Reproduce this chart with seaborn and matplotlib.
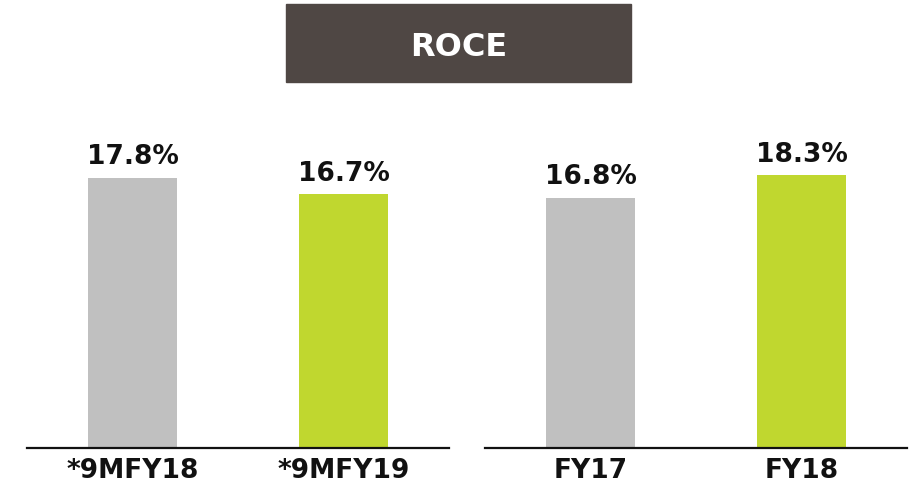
import matplotlib
matplotlib.use("Agg")
import matplotlib.pyplot as plt
import seaborn as sns
import pandas as pd

# ROCE values (%)
left_periods = ["*9MFY18", "*9MFY19"]
left_roce = [17.8, 16.7]
right_periods = ["FY17", "FY18"]
right_roce = [16.8, 18.3]
bar_colors = ["#c0c0c0", "#c0d72f"]

sns.set_theme(style="white")
plt.rcParams['font.family'] = ['DejaVu Sans']

W, H = 914, 495
fig = plt.figure(figsize=(W / 100, H / 100), dpi=100)

def px_axes(x0, y0, x1, y1):
    # axes in pixel coords (top-left origin)
    return fig.add_axes([x0 / W, 1 - y1 / H, (x1 - x0) / W, (y1 - y0) / H])

panels = [
    (px_axes(27, 100, 449, 448), left_periods, left_roce, 22.9),
    (px_axes(485, 100, 907, 448), right_periods, right_roce, 23.35),
]

for ax, periods, vals, top in panels:
    df = pd.DataFrame({"Period": periods, "ROCE": vals})
    sns.barplot(data=df, x="Period", y="ROCE", hue="Period", palette=bar_colors,
                width=0.42, legend=False, ax=ax, saturation=1, linewidth=0)
    for i, v in enumerate(vals):
        ax.text(i, v + 0.5, f"{v:.1f}%", ha="center", va="bottom",
                fontsize=19, fontweight="bold", color="#111111")
    ax.set_xlim(-0.5, 1.5)
    ax.set_ylim(0, top)
    ax.set_xlabel("")
    ax.set_ylabel("")
    ax.set_yticks([])
    ax.tick_params(axis="x", length=0, pad=7, labelsize=19)
    for lbl in ax.get_xticklabels():
        lbl.set_fontweight("bold")
        lbl.set_color("#111111")
    sns.despine(ax=ax, left=True)
    ax.spines["bottom"].set_color("#111111")
    ax.spines["bottom"].set_linewidth(1.6)
    ax.patch.set_alpha(0)

# title box
fig.patches.append(plt.Rectangle((286 / W, 1 - 82 / H), 345 / W, 78 / H,
                                 transform=fig.transFigure, color="#4f4744", zorder=0))
fig.text(458.5 / W, 1 - 47 / H, "ROCE", ha="center", va="center",
         color="white", fontsize=23, fontweight="bold")

fig.savefig("out.png", dpi=100)
